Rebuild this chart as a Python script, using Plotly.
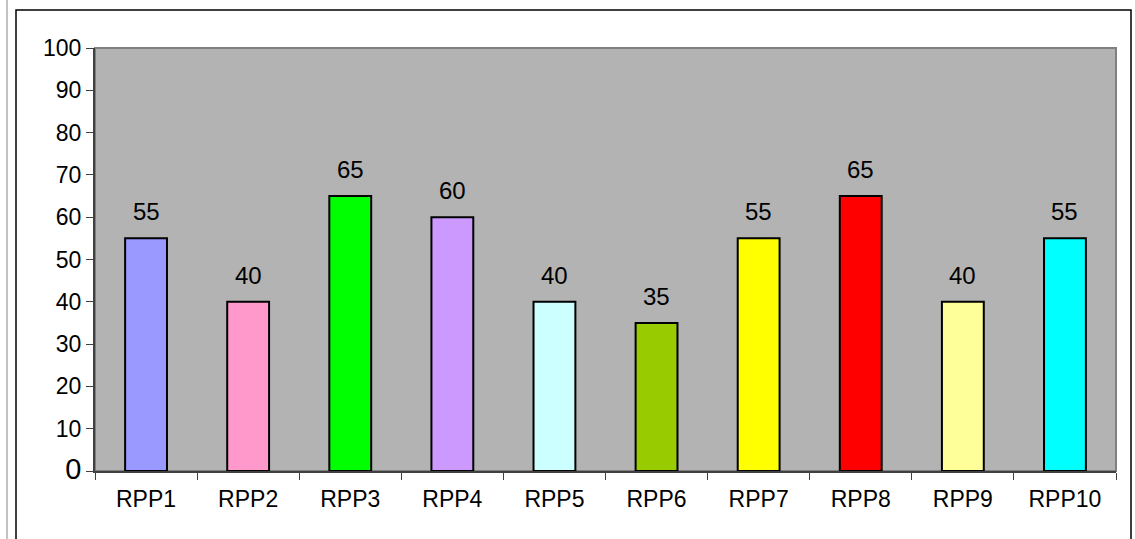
import plotly.graph_objects as go

categories = ["RPP1", "RPP2", "RPP3", "RPP4", "RPP5", "RPP6", "RPP7", "RPP8", "RPP9", "RPP10"]
values = [55, 40, 65, 60, 40, 35, 55, 65, 40, 55]
colors = ["#9999FF", "#FF99CC", "#00FF00", "#CC99FF", "#CCFFFF",
          "#99CC00", "#FFFF00", "#FF0000", "#FFFF99", "#00FFFF"]
y_ticks = [0, 10, 20, 30, 40, 50, 60, 70, 80, 90, 100]
y_ticktext = ['<span style="font-size:29px">0</span>'] + [str(v) for v in y_ticks[1:]]

FONT = "Liberation Sans, Arial, sans-serif"

fig = go.Figure()
fig.add_trace(go.Bar(
    x=categories, y=values,
    marker=dict(color=colors, line=dict(color="black", width=2)),
    width=0.41,
    hoverinfo="x+y",
))

for c, v in zip(categories, values):
    fig.add_annotation(x=c, y=v, text=str(v), showarrow=False,
                       yanchor="bottom", yshift=11,
                       font=dict(size=24, color="black", family=FONT))

L, R, T, B = 95, 19, 48, 68
W, H = 1135, 539
pw, ph = W - L - R, H - T - B

def px(x):
    return (x - L) / pw

def py(y):
    return (H - B - y) / ph

# outer chart border
fig.add_shape(type="rect", xref="paper", yref="paper",
              x0=px(16), x1=px(1131), y0=py(10), y1=py(560),
              line=dict(color="black", width=1.5), fillcolor="rgba(0,0,0,0)", layer="below")
fig.add_shape(type="line", xref="paper", yref="paper",
              x0=px(7), x1=px(7), y0=py(0), y1=py(560),
              line=dict(color="#888888", width=1), layer="below")
# plot area border
fig.add_shape(type="rect", xref="paper", yref="paper",
              x0=0, x1=1, y0=0, y1=1,
              line=dict(color="#808080", width=2), layer="below")

fig.update_layout(
    width=W, height=H,
    margin=dict(l=L, r=R, t=T, b=B),
    paper_bgcolor="white",
    plot_bgcolor="#B3B3B3",
    showlegend=False,
    font=dict(family=FONT, color="black", size=24),
)
fig.update_xaxes(
    type="category",
    tickson="boundaries",
    ticks="outside", ticklen=7, tickcolor="#404040", tickwidth=1,
    showline=True, linecolor="#404040", linewidth=2,
    tickfont=dict(size=23, family=FONT, color="black"),
    ticklabelstandoff=6,
    showgrid=False,
)
fig.update_yaxes(
    range=[0, 100],
    tickvals=y_ticks, ticktext=y_ticktext,
    ticks="outside", ticklen=7, tickcolor="#404040", tickwidth=1,
    showline=True, linecolor="#404040", linewidth=2,
    tickfont=dict(size=23, family=FONT, color="black"),
    showgrid=False, zeroline=False,
)

fig.write_html("out.html")
